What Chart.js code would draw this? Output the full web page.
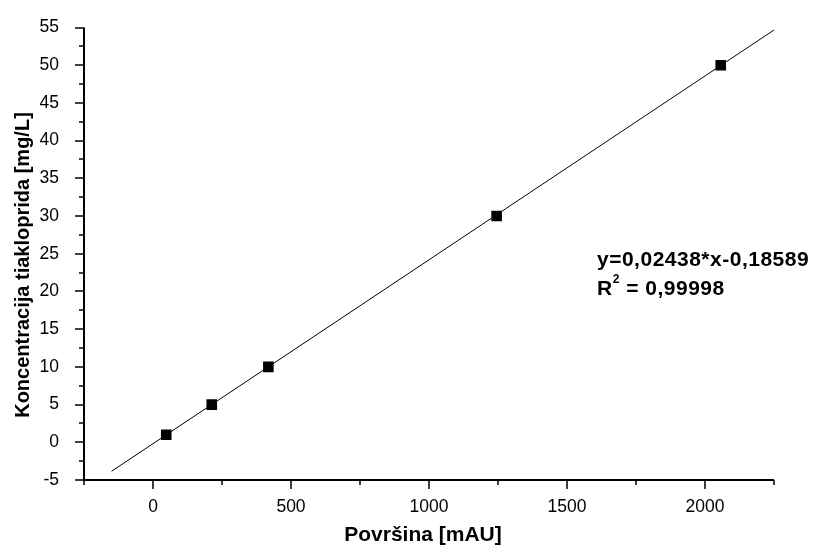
<!DOCTYPE html>
<html>
<head>
<meta charset="utf-8">
<script src="https://cdn.jsdelivr.net/npm/chart.js@4"></script>
<style>
  html, body { margin: 0; padding: 0; background: #fff; }
  #wrap { width: 819px; height: 547px; }
</style>
</head>
<body>
<div id="wrap"><canvas id="calChart"></canvas></div>
<script>
// Kalibracijska krivulja tiakloprida
const povrsina = [48, 213, 418, 1245, 2057];
const koncentracija = [1, 5, 10, 30, 50];

// krajnje točke pravca s grafa
const fitX = [-150, 2250];
const fitY = [-3.84, 54.67];

const xMin = -250, xMax = 2250, xStep = 250, xLabelStep = 500;
const yMin = -5, yMax = 55, yStep = 2.5, yLabelStep = 5;

const xTitle = 'Površina [mAU]';
const yTitle = 'Koncentracija tiakloprida [mg/L]';
const equationLines = ['y=0,02438*x-0,18589', 'R', ' = 0,99998'];

const fontName = '"Liberation Sans", Arial, sans-serif';

// osi, crtice (velike i male), naslovi osi i jednadžba
const extras = {
    id: 'extras',
    afterDraw(chart) {
        const ctx = chart.ctx;
        const xs = chart.scales.x, ys = chart.scales.y;
        const area = chart.chartArea;
        ctx.save();
        ctx.strokeStyle = '#000';
        ctx.lineWidth = 2;
        ctx.beginPath();
        ctx.moveTo(area.left, area.top);
        ctx.lineTo(area.left, area.bottom);
        ctx.lineTo(area.right, area.bottom);
        ctx.stroke();
        ctx.lineWidth = 1.5;
        ctx.beginPath();
        for (let v = xMin; v <= xMax; v += xStep) {
            const px = Math.round(xs.getPixelForValue(v));
            const len = (v % xLabelStep === 0) ? 9 : 5;
            ctx.moveTo(px, area.bottom);
            ctx.lineTo(px, area.bottom + len);
        }
        for (let v = yMin; v <= yMax; v += yStep) {
            const py = Math.round(ys.getPixelForValue(v));
            const len = (v % yLabelStep === 0) ? 9 : 5;
            ctx.moveTo(area.left, py);
            ctx.lineTo(area.left - len, py);
        }
        ctx.stroke();

        ctx.fillStyle = '#000';

        // naslov osi x
        ctx.font = 'bold 21px ' + fontName;
        ctx.textAlign = 'center';
        ctx.textBaseline = 'alphabetic';
        ctx.fillText(xTitle, 423, 541);

        // naslov osi y
        ctx.save();
        ctx.font = 'bold 20px ' + fontName;
        ctx.translate(23, 265);
        ctx.rotate(-Math.PI / 2);
        ctx.textBaseline = 'middle';
        ctx.fillText(yTitle, 0, 0);
        ctx.restore();

        // jednadžba pravca
        ctx.textAlign = 'left';
        ctx.textBaseline = 'alphabetic';
        ctx.letterSpacing = '0.5px';
        ctx.font = 'bold 21px ' + fontName;
        ctx.fillText(equationLines[0], 597, 266);
        ctx.fillText(equationLines[1], 597, 295);
        const rw = ctx.measureText(equationLines[1]).width;
        ctx.font = 'bold 12px ' + fontName;
        ctx.fillText('2', 597 + rw, 283);
        const sw = ctx.measureText('2').width;
        ctx.font = 'bold 21px ' + fontName;
        ctx.fillText(equationLines[2], 597 + rw + sw, 295);
        ctx.restore();
    }
};

new Chart(document.getElementById('calChart'), {
    type: 'scatter',
    data: {
        datasets: [
            {
                label: 'fit',
                type: 'line',
                data: fitX.map((x, i) => ({ x: x, y: fitY[i] })),
                borderColor: '#000',
                borderWidth: 1,
                pointRadius: 0,
                fill: false,
                order: 2
            },
            {
                label: 'mjerenja',
                data: povrsina.map((x, i) => ({ x: x, y: koncentracija[i] })),
                pointStyle: 'rect',
                pointRadius: 7.5,
                backgroundColor: '#000',
                borderColor: '#000',
                borderWidth: 0,
                order: 1
            }
        ]
    },
    options: {
        responsive: true,
        maintainAspectRatio: false,
        animation: false,
        layout: { padding: { top: 22, right: 45, left: 0, bottom: 0 } },
        plugins: {
            legend: { display: false },
            tooltip: { enabled: false }
        },
        scales: {
            x: {
                type: 'linear',
                min: xMin,
                max: xMax,
                border: { display: false },
                grid: { display: false },
                ticks: {
                    stepSize: xStep,
                    autoSkip: false,
                    maxRotation: 0,
                    padding: 9,
                    color: '#000',
                    font: { family: fontName, size: 17.5 },
                    callback: v => (v % xLabelStep === 0 ? v : '')
                },
                afterFit(scale) { scale.height = 67; }
            },
            y: {
                type: 'linear',
                min: yMin,
                max: yMax,
                border: { display: false },
                grid: { display: false },
                ticks: {
                    stepSize: yStep,
                    autoSkip: false,
                    padding: 17,
                    color: '#000',
                    font: { family: fontName, size: 17.5 },
                    callback: v => (v % yLabelStep === 0 ? v : '')
                },
                afterFit(scale) { scale.width = 84; }
            }
        }
    },
    plugins: [extras]
});
</script>
</body>
</html>
